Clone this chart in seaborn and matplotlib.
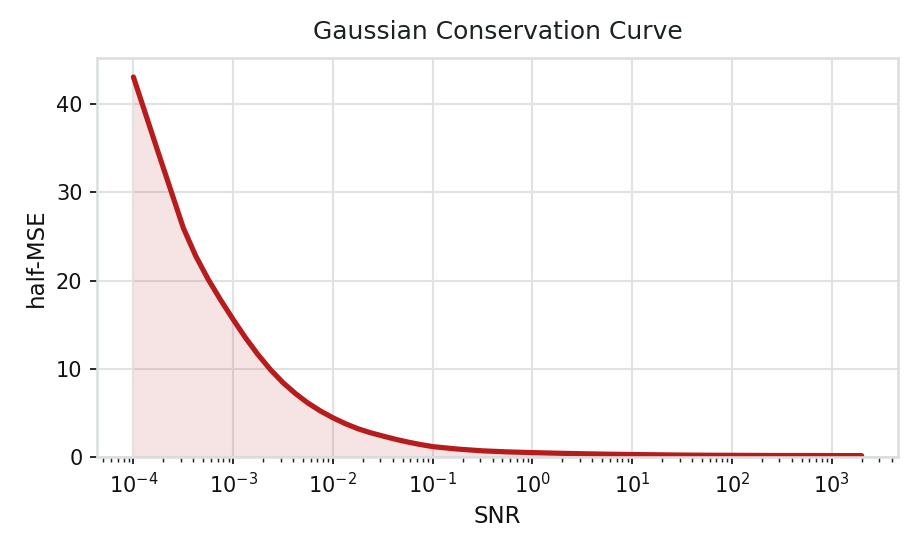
import numpy as np
import pandas as pd
import matplotlib
matplotlib.use("Agg")
import matplotlib.pyplot as plt
import seaborn as sns

# SNR sample points and half-MSE values
snr = [1.000e-4, 1.778e-4, 3.162e-4, 4.217e-4, 5.623e-4, 7.499e-4,
       1.000e-3, 1.334e-3, 1.778e-3, 2.371e-3, 3.162e-3, 4.217e-3,
       5.623e-3, 7.499e-3, 1.000e-2, 1.334e-2, 1.778e-2, 2.371e-2,
       3.162e-2, 4.217e-2, 5.623e-2, 7.499e-2, 0.1, 0.1778, 0.3162,
       0.5623, 1.0, 1.778, 3.162, 5.623, 10.0, 17.78, 31.62, 56.23,
       100.0, 177.8, 316.2, 562.3, 1000.0, 2000.0]
half_mse = [43.1, 34.5, 26.0, 22.8, 20.15, 17.8, 15.6, 13.5, 11.6, 9.9,
            8.43, 7.19, 6.12, 5.22, 4.45, 3.78, 3.21, 2.76, 2.38, 2.02,
            1.70, 1.42, 1.18, 0.90, 0.70, 0.58, 0.50, 0.43, 0.37, 0.32,
            0.28, 0.25, 0.22, 0.20, 0.19, 0.18, 0.17, 0.17, 0.16, 0.16]

df = pd.DataFrame({"SNR": snr, "half-MSE": half_mse})

sns.set_theme(style="whitegrid")
plt.rcParams["font.family"] = ["DejaVu Sans"]
plt.rcParams.update({
    "axes.edgecolor": "#dcdfdf",
    "grid.color": "#e1e3e3",
    "xtick.bottom": True,
    "ytick.left": True,
    "xtick.major.size": 3.5,
    "xtick.major.width": 0.9,
    "xtick.minor.size": 2.2,
    "xtick.minor.width": 0.7,
    "ytick.major.size": 3.5,
    "ytick.major.width": 0.9,
    "xtick.color": "#222222",
    "ytick.color": "#222222",
})

red = "#b71c1c"

fig = plt.figure(figsize=(917 / 150, 551 / 150), dpi=150)
ax = fig.add_axes([97 / 917, 1 - 457 / 551, (898 - 97) / 917, (457 - 58) / 551])

ax.fill_between(df["SNR"], 0, df["half-MSE"], color=red, alpha=0.12, linewidth=0)
sns.lineplot(data=df, x="SNR", y="half-MSE", color=red, linewidth=2.5, ax=ax)

ax.set_xscale("log")
ax.set_ylim(bottom=0)
ax.set_title("Gaussian Conservation Curve", fontsize=12, color="#1c2222", pad=9)
ax.set_xlabel("SNR", fontsize=11, color="#111111")
ax.set_ylabel("half-MSE", fontsize=11, color="#111111")
ax.tick_params(axis="both", labelsize=10, labelcolor="#111111")
ax.tick_params(axis="x", which="minor", bottom=True)

fig.savefig("out.png", dpi=150)
